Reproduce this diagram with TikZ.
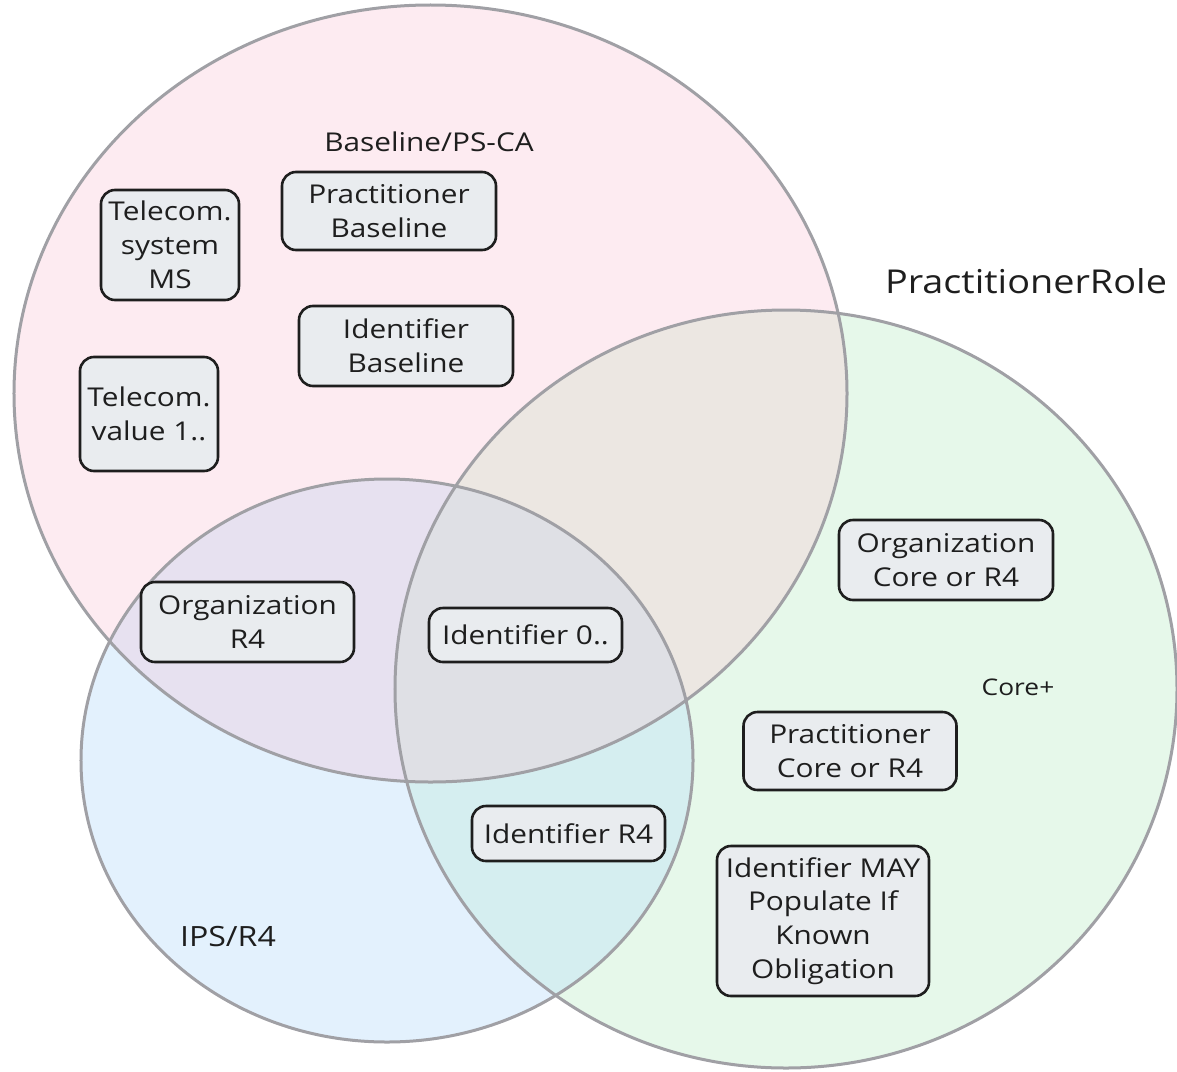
\documentclass[tikz,border=0pt]{standalone}
\usepackage{fontspec}
\setmainfont[FakeStretch=1.15]{Open Sans}
\definecolor{setline}{RGB}{160,160,165}
\definecolor{pinkfill}{RGB}{253,235,241}
\definecolor{bluefill}{RGB}{227,241,253}
\definecolor{greenfill}{RGB}{230,248,234}
\definecolor{pinkgreen}{RGB}{236,231,226}
\definecolor{pinkblue}{RGB}{231,225,240}
\definecolor{bluegreen}{RGB}{213,238,240}
\definecolor{allthree}{RGB}{223,224,229}
\definecolor{boxfill}{RGB}{233,236,239}
\definecolor{boxline}{RGB}{30,30,30}

% The three sets
\def\pinkset{(430.5,393.5) ellipse [x radius=416.5bp, y radius=388.5bp]}
\def\blueset{(387,760.5) ellipse [x radius=306bp, y radius=281.5bp]}
\def\greenset{(786,689) ellipse [x radius=391bp, y radius=379bp]}

\begin{document}
\begin{tikzpicture}[x=1bp,y=-1bp,
  set/.style={draw=setline, line width=3bp},
  box/.style={draw=boxline, fill=boxfill, line width=2.6bp, rounded corners=14bp,
    align=center, inner sep=0pt, text=boxline, font=\fontsize{26}{34}\selectfont},
  setlabel/.style={text=boxline, font=\fontsize{26}{30}\selectfont}]
\useasboundingbox (0,0) rectangle (1177,1072);

% Fills, then the overlaps one by one
\fill[pinkfill] \pinkset;
\fill[bluefill] \blueset;
\fill[greenfill] \greenset;
\begin{scope}
  \clip \pinkset;
  \fill[pinkgreen] \greenset;
  \fill[pinkblue] \blueset;
\end{scope}
\begin{scope}
  \clip \blueset;
  \fill[bluegreen] \greenset;
  \clip \pinkset;
  \fill[allthree] \greenset;
\end{scope}
\draw[set] \pinkset;
\draw[set] \blueset;
\draw[set] \greenset;

% Set labels
\node[setlabel] (baseline) at (429,142) {Baseline/PS-CA};
\node[setlabel, font=\fontsize{33}{36}\selectfont] (role) at (1026,281) {PractitionerRole};
\node[setlabel, font=\fontsize{23}{26}\selectfont] (coreplus) at (1018,687) {Core+};
\node[setlabel, font=\fontsize{28}{30}\selectfont] (ips) at (228,937) {IPS/R4};

% Baseline only
\node[box, minimum width=138bp, minimum height=110bp] (telsys) at (170,245) {Telecom.\\system\\MS};
\node[box, minimum width=214bp, minimum height=78bp] (pracbase) at (389,211) {Practitioner\\Baseline};
\node[box, minimum width=214bp, minimum height=80bp] (idbase) at (406,346) {Identifier\\Baseline};
\node[box, minimum width=138bp, minimum height=114bp] (telval) at (149,414) {Telecom.\\value 1..};

% Overlaps
\node[box, minimum width=213bp, minimum height=80bp] (orgr4) at (247.5,622) {Organization\\R4};
\node[box, minimum width=193bp, minimum height=54bp] (idzero) at (525.5,635) {Identifier 0..};
\node[box, minimum width=193bp, minimum height=55bp] (idr4) at (568.5,833.5) {Identifier R4};

% Core+ only
\node[box, minimum width=214bp, minimum height=80bp] (orgcore) at (946,560) {Organization\\Core or R4};
\node[box, minimum width=213bp, minimum height=78bp] (praccore) at (850,751) {Practitioner\\Core or R4};
\node[box, minimum width=212bp, minimum height=150bp] (idmay) at (823,921) {Identifier MAY\\Populate If\\Known\\Obligation};
\end{tikzpicture}
\end{document}
